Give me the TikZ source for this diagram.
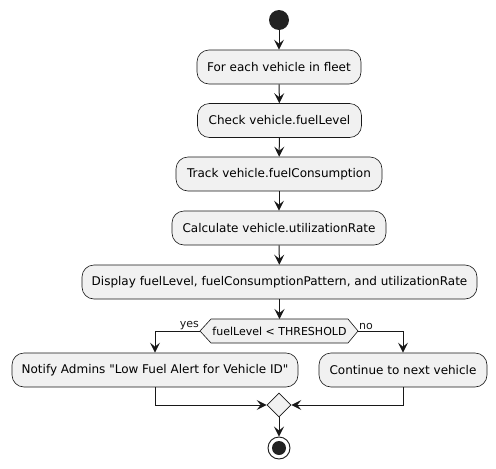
\documentclass[tikz,border=0pt]{standalone}
\usepackage{fontspec}
\setmainfont{DejaVu Sans}[Ligatures=TeXOff]
\usetikzlibrary{arrows.meta,shapes.geometric}
\definecolor{bx}{HTML}{F1F1F1}
\definecolor{ln}{HTML}{181818}
\definecolor{dot}{HTML}{222222}
\begin{document}
\begin{tikzpicture}[x=1pt,y=-1pt,
 act/.style={draw=ln, fill=bx, rounded corners=12pt, minimum height=34pt, inner sep=0pt, font=\fontsize{12}{14}\selectfont, line width=0.6pt},
 flow/.style={draw=ln, line width=1pt, -{Stealth[length=10pt,width=10pt,inset=4pt]}},
 lbl/.style={font=\fontsize{11}{13}\selectfont, inner sep=1pt, text=ln}]
\useasboundingbox[fill=white] (0,0) rectangle (496,469);
\node[circle, fill=dot, minimum size=20pt, inner sep=0pt] (start) at (279,20) {};
\node[act, minimum width=164pt] (a1) at (279,67) {For each vehicle in fleet};
\node[act, minimum width=164pt] (a2) at (279.5,120.5) {Check vehicle.fuelLevel};
\node[act, minimum width=206pt] (a3) at (279,174) {Track vehicle.fuelConsumption};
\node[act, minimum width=214pt] (a4) at (279,228) {Calculate vehicle.utilizationRate};
\node[act, minimum width=395pt] (a5) at (279.5,282) {Display fuelLevel, fuelConsumptionPattern, and utilizationRate};
\draw[draw=ln, fill=bx, line width=0.6pt] (211,319) -- (348,319) -- (358,331) -- (348,343) -- (211,343) -- (200,331) -- cycle
  (279.5,331) node[font=\fontsize{11}{13}\selectfont, inner sep=0pt, minimum width=137pt, minimum height=24pt] (hex) {fuelLevel < THRESHOLD};
\coordinate (hexL) at (200,331);
\coordinate (hexR) at (358,331);
\node[act, minimum width=286pt] (yes) at (155,370) {Notify Admins "Low Fuel Alert for Vehicle ID"};
\node[act, minimum width=168pt] (no) at (403,370) {Continue to next vehicle};
\node[diamond, aspect=1, draw=ln, fill=bx, line width=0.6pt, minimum size=24pt, inner sep=0pt] (merge) at (279,405) {};
\node[circle, draw=ln, fill=white, line width=0.9pt, minimum size=22pt, inner sep=0pt] (stop) at (279,448) {};
\node[circle, fill=dot, minimum size=14pt, inner sep=0pt] (stopdot) at (stop.center) {};
\draw[flow] (start) -- (a1);
\draw[flow] (a1) -- (a2);
\draw[flow] (a2) -- (a3);
\draw[flow] (a3) -- (a4);
\draw[flow] (a4) -- (a5);
\draw[flow] (a5) -- (a5.south |- 0,319);
\draw[flow] (hexL) -| (yes.north);
\draw[flow] (hexR) -| (no.north);
\node[lbl, anchor=south east] (lyes) at (hexL) {yes};
\node[lbl, anchor=south west] (lno) at (hexR) {no};
\draw[flow] (yes.south) |- (merge.west);
\draw[flow] (no.south) |- (merge.east);
\draw[flow] (merge.south) -- (stop.north);
\end{tikzpicture}
\end{document}
